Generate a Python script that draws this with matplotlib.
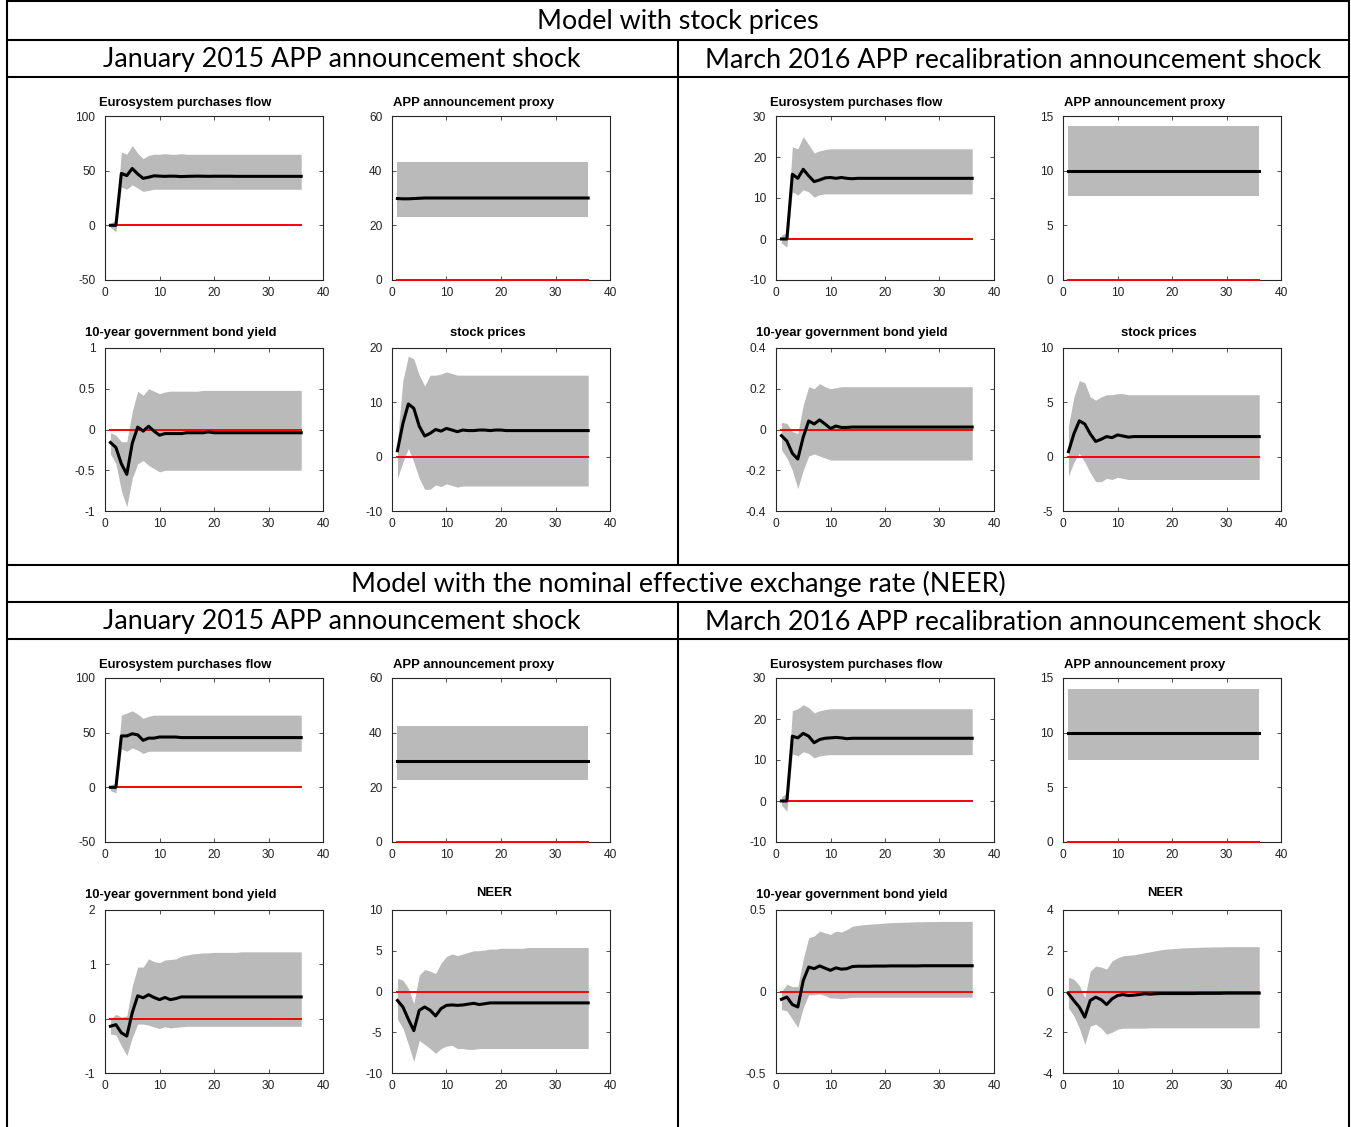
import numpy as np
import matplotlib.pyplot as plt

plt.rcParams['axes.unicode_minus'] = False

# ---- data: impulse responses (median, lower and upper band), horizon 1..36 ----
# model with stock prices, January 2015 shock
sp15_flow_med = [0, 0, 47.5, 45.5, 52, 47, 43, 44, 45.3, 45, 44.8, 45,
                 44.9, 44.6, 44.8, 44.9, 45, 44.9, 44.8, 44.9, 44.9, 44.9, 44.9, 44.8,
                 44.8, 44.8, 44.8, 44.8, 44.8, 44.8, 44.8, 44.8, 44.8, 44.8, 44.8, 44.8]
sp15_flow_hi = [2, 5, 67, 65, 73, 66, 61, 64, 65, 65, 65.5, 65,
                65, 65.5, 65, 65, 65, 65, 65, 65, 65, 65, 65, 65,
                65, 65, 65, 65, 65, 65, 65, 65, 65, 65, 65, 65]
sp15_flow_lo = [-2, -6, 35, 33, 37, 34, 31, 32, 33, 33, 33, 33,
                33, 33, 33, 33, 33, 33, 33, 33, 33, 33, 33, 33,
                33, 33, 33, 33, 33, 33, 33, 33, 33, 33, 33, 33]
sp15_app_med = [29.8, 29.7, 29.7, 29.8, 29.9, 30, 30, 30, 30, 30, 30, 30,
                30, 30, 30, 30, 30, 30, 30, 30, 30, 30, 30, 30,
                30, 30, 30, 30, 30, 30, 30, 30, 30, 30, 30, 30]
sp15_app_hi = [43, 43, 43, 43, 43, 43, 43, 43, 43, 43, 43, 43,
               43, 43, 43, 43, 43, 43, 43, 43, 43, 43, 43, 43,
               43, 43, 43, 43, 43, 43, 43, 43, 43, 43, 43, 43]
sp15_app_lo = [23, 23, 23, 23, 23, 23, 23, 23, 23, 23, 23, 23,
               23, 23, 23, 23, 23, 23, 23, 23, 23, 23, 23, 23,
               23, 23, 23, 23, 23, 23, 23, 23, 23, 23, 23, 23]
sp15_bond_med = [-0.16, -0.22, -0.42, -0.55, -0.17, 0.03, -0.02, 0.04, -0.02, -0.07, -0.05, -0.05,
                 -0.05, -0.05, -0.04, -0.04, -0.04, -0.04, -0.03, -0.04, -0.04, -0.04, -0.04, -0.04,
                 -0.04, -0.04, -0.04, -0.04, -0.04, -0.04, -0.04, -0.04, -0.04, -0.04, -0.04, -0.04]
sp15_bond_hi = [-0.04, -0.07, -0.15, -0.15, 0.22, 0.47, 0.42, 0.5, 0.47, 0.44, 0.46, 0.47,
                0.47, 0.47, 0.47, 0.47, 0.47, 0.48, 0.48, 0.48, 0.48, 0.48, 0.48, 0.48,
                0.48, 0.48, 0.48, 0.48, 0.48, 0.48, 0.48, 0.48, 0.48, 0.48, 0.48, 0.48]
sp15_bond_lo = [-0.3, -0.42, -0.75, -0.95, -0.6, -0.42, -0.38, -0.44, -0.48, -0.52, -0.5, -0.5,
                -0.5, -0.5, -0.5, -0.5, -0.5, -0.5, -0.5, -0.5, -0.5, -0.5, -0.5, -0.5,
                -0.5, -0.5, -0.5, -0.5, -0.5, -0.5, -0.5, -0.5, -0.5, -0.5, -0.5, -0.5]
sp15_stock_med = [1.1, 6.1, 9.7, 8.9, 5.6, 3.8, 4.3, 5.0, 4.7, 5.2, 4.9, 4.6,
                  4.9, 4.8, 4.8, 4.9, 4.9, 4.8, 4.9, 4.9, 4.8, 4.8, 4.8, 4.8,
                  4.8, 4.8, 4.8, 4.8, 4.8, 4.8, 4.8, 4.8, 4.8, 4.8, 4.8, 4.8]
sp15_stock_hi = [3, 14, 18.5, 18, 15, 13, 15, 15, 15.2, 15.6, 15.3, 15,
                 15, 15, 15, 15, 15, 15, 15, 15, 15, 15, 15, 15,
                 15, 15, 15, 15, 15, 15, 15, 15, 15, 15, 15, 15]
sp15_stock_lo = [-4, -1, 1.5, -1, -4, -6, -6, -5.2, -5.5, -5, -5.3, -5.6,
                 -5.4, -5.4, -5.4, -5.4, -5.4, -5.4, -5.4, -5.4, -5.4, -5.4, -5.4, -5.4,
                 -5.4, -5.4, -5.4, -5.4, -5.4, -5.4, -5.4, -5.4, -5.4, -5.4, -5.4, -5.4]

# model with stock prices, March 2016 shock
sp16_flow_med = [0, 0, 15.8, 14.8, 17, 15.4, 14, 14.4, 14.9, 15, 14.8, 15,
                 14.8, 14.7, 14.8, 14.8, 14.8, 14.8, 14.8, 14.8, 14.8, 14.8, 14.8, 14.8,
                 14.8, 14.8, 14.8, 14.8, 14.8, 14.8, 14.8, 14.8, 14.8, 14.8, 14.8, 14.8]
sp16_flow_hi = [1, 1.5, 22.5, 22, 25, 23, 21, 21.5, 21.8, 22, 22, 22,
                22, 22, 22, 22, 22, 22, 22, 22, 22, 22, 22, 22,
                22, 22, 22, 22, 22, 22, 22, 22, 22, 22, 22, 22]
sp16_flow_lo = [-1, -2, 11.5, 10.7, 12, 11.5, 10.2, 10.8, 11, 11, 11, 11,
                11, 11, 11, 11, 11, 11, 11, 11, 11, 11, 11, 11,
                11, 11, 11, 11, 11, 11, 11, 11, 11, 11, 11, 11]
sp16_app_med = [10, 10, 10, 10, 10, 10, 10, 10, 10, 10, 10, 10,
                10, 10, 10, 10, 10, 10, 10, 10, 10, 10, 10, 10,
                10, 10, 10, 10, 10, 10, 10, 10, 10, 10, 10, 10]
sp16_app_hi = [14.1, 14.1, 14.1, 14.1, 14.1, 14.1, 14.1, 14.1, 14.1, 14.1, 14.1, 14.1,
               14.1, 14.1, 14.1, 14.1, 14.1, 14.1, 14.1, 14.1, 14.1, 14.1, 14.1, 14.1,
               14.1, 14.1, 14.1, 14.1, 14.1, 14.1, 14.1, 14.1, 14.1, 14.1, 14.1, 14.1]
sp16_app_lo = [7.7, 7.7, 7.7, 7.7, 7.7, 7.7, 7.7, 7.7, 7.7, 7.7, 7.7, 7.7,
               7.7, 7.7, 7.7, 7.7, 7.7, 7.7, 7.7, 7.7, 7.7, 7.7, 7.7, 7.7,
               7.7, 7.7, 7.7, 7.7, 7.7, 7.7, 7.7, 7.7, 7.7, 7.7, 7.7, 7.7]
sp16_bond_med = [-0.03, -0.057, -0.117, -0.145, -0.037, 0.042, 0.027, 0.047, 0.027, 0.005, 0.017, 0.01,
                 0.01, 0.012, 0.012, 0.012, 0.012, 0.012, 0.012, 0.012, 0.012, 0.012, 0.012, 0.012,
                 0.012, 0.012, 0.012, 0.012, 0.012, 0.012, 0.012, 0.012, 0.012, 0.012, 0.012, 0.012]
sp16_bond_hi = [0.035, 0.03, -0.01, -0.02, 0.12, 0.21, 0.2, 0.225, 0.21, 0.2, 0.205, 0.21,
                0.21, 0.21, 0.21, 0.21, 0.21, 0.21, 0.21, 0.21, 0.21, 0.21, 0.21, 0.21,
                0.21, 0.21, 0.21, 0.21, 0.21, 0.21, 0.21, 0.21, 0.21, 0.21, 0.21, 0.21]
sp16_bond_lo = [-0.1, -0.14, -0.2, -0.29, -0.2, -0.13, -0.12, -0.13, -0.14, -0.15, -0.15, -0.15,
                -0.15, -0.15, -0.15, -0.15, -0.15, -0.15, -0.15, -0.15, -0.15, -0.15, -0.15, -0.15,
                -0.15, -0.15, -0.15, -0.15, -0.15, -0.15, -0.15, -0.15, -0.15, -0.15, -0.15, -0.15]
sp16_stock_med = [0.46, 2.1, 3.3, 3.0, 2.1, 1.4, 1.6, 1.85, 1.75, 2.0, 1.9, 1.8,
                  1.85, 1.85, 1.85, 1.85, 1.85, 1.85, 1.85, 1.85, 1.85, 1.85, 1.85, 1.85,
                  1.85, 1.85, 1.85, 1.85, 1.85, 1.85, 1.85, 1.85, 1.85, 1.85, 1.85, 1.85]
sp16_stock_hi = [2.8, 5.5, 7, 6.8, 5.5, 5.2, 5.5, 5.7, 5.7, 5.8, 5.8, 5.7,
                 5.7, 5.7, 5.7, 5.7, 5.7, 5.7, 5.7, 5.7, 5.7, 5.7, 5.7, 5.7,
                 5.7, 5.7, 5.7, 5.7, 5.7, 5.7, 5.7, 5.7, 5.7, 5.7, 5.7, 5.7]
sp16_stock_lo = [-1.8, -0.5, 0.3, -0.5, -1.5, -2.3, -2.3, -2.0, -2.1, -1.9, -2.0, -2.1,
                 -2.1, -2.1, -2.1, -2.1, -2.1, -2.1, -2.1, -2.1, -2.1, -2.1, -2.1, -2.1,
                 -2.1, -2.1, -2.1, -2.1, -2.1, -2.1, -2.1, -2.1, -2.1, -2.1, -2.1, -2.1]

# model with the NEER, January 2015 shock
ne15_flow_med = [0, 0, 47, 47, 49, 48, 43, 45, 45, 46, 46, 46,
                 46, 45.5, 45.5, 45.5, 45.5, 45.5, 45.5, 45.5, 45.5, 45.5, 45.5, 45.5,
                 45.5, 45.5, 45.5, 45.5, 45.5, 45.5, 45.5, 45.5, 45.5, 45.5, 45.5, 45.5]
ne15_flow_hi = [2, 4, 66, 68, 70, 67, 63, 65, 66, 66, 66, 66,
                66, 66, 66, 66, 66, 66, 66, 66, 66, 66, 66, 66,
                66, 66, 66, 66, 66, 66, 66, 66, 66, 66, 66, 66]
ne15_flow_lo = [-3, -5, 35, 33, 36, 34, 31, 33, 33, 33, 33, 33,
                33, 33, 33, 33, 33, 33, 33, 33, 33, 33, 33, 33,
                33, 33, 33, 33, 33, 33, 33, 33, 33, 33, 33, 33]
ne15_app_med = [29.8, 29.8, 29.8, 29.8, 29.8, 29.8, 29.8, 29.8, 29.8, 29.8, 29.8, 29.8,
                29.8, 29.8, 29.8, 29.8, 29.8, 29.8, 29.8, 29.8, 29.8, 29.8, 29.8, 29.8,
                29.8, 29.8, 29.8, 29.8, 29.8, 29.8, 29.8, 29.8, 29.8, 29.8, 29.8, 29.8]
ne15_app_hi = [42.5, 42.5, 42.5, 42.5, 42.5, 42.5, 42.5, 42.5, 42.5, 42.5, 42.5, 42.5,
               42.5, 42.5, 42.5, 42.5, 42.5, 42.5, 42.5, 42.5, 42.5, 42.5, 42.5, 42.5,
               42.5, 42.5, 42.5, 42.5, 42.5, 42.5, 42.5, 42.5, 42.5, 42.5, 42.5, 42.5]
ne15_app_lo = [22.5, 22.5, 22.5, 22.5, 22.5, 22.5, 22.5, 22.5, 22.5, 22.5, 22.5, 22.5,
               22.5, 22.5, 22.5, 22.5, 22.5, 22.5, 22.5, 22.5, 22.5, 22.5, 22.5, 22.5,
               22.5, 22.5, 22.5, 22.5, 22.5, 22.5, 22.5, 22.5, 22.5, 22.5, 22.5, 22.5]
ne15_bond_med = [-0.14, -0.11, -0.26, -0.32, 0.11, 0.42, 0.385, 0.44, 0.39, 0.35, 0.39, 0.35,
                 0.37, 0.4, 0.4, 0.4, 0.4, 0.4, 0.4, 0.4, 0.4, 0.4, 0.4, 0.4,
                 0.4, 0.4, 0.4, 0.4, 0.4, 0.4, 0.4, 0.4, 0.4, 0.4, 0.4, 0.4]
ne15_bond_hi = [-0.01, 0.08, 0.03, 0.05, 0.6, 0.95, 0.95, 1.1, 1.05, 1.03, 1.08, 1.09,
                1.1, 1.15, 1.17, 1.19, 1.2, 1.21, 1.21, 1.22, 1.22, 1.22, 1.22, 1.22,
                1.23, 1.23, 1.23, 1.23, 1.23, 1.23, 1.23, 1.23, 1.23, 1.23, 1.23, 1.23]
ne15_bond_lo = [-0.28, -0.3, -0.5, -0.68, -0.35, -0.1, -0.1, -0.12, -0.15, -0.18, -0.15, -0.17,
                -0.16, -0.15, -0.14, -0.14, -0.14, -0.14, -0.14, -0.14, -0.14, -0.14, -0.14, -0.14,
                -0.14, -0.14, -0.14, -0.14, -0.14, -0.14, -0.14, -0.14, -0.14, -0.14, -0.14, -0.14]
ne15_neer_med = [-1.1, -1.9, -3.4, -4.8, -2.3, -1.9, -2.3, -3.0, -2.1, -1.7, -1.65, -1.7,
                 -1.65, -1.55, -1.45, -1.6, -1.5, -1.4, -1.4, -1.4, -1.4, -1.4, -1.4, -1.4,
                 -1.4, -1.4, -1.4, -1.4, -1.4, -1.4, -1.4, -1.4, -1.4, -1.4, -1.4, -1.4]
ne15_neer_hi = [1.6, 1.4, 0.4, -1.5, 2.0, 2.7, 2.5, 2.2, 3.5, 4.3, 4.6, 4.4,
                4.6, 4.8, 5.0, 5.0, 5.1, 5.2, 5.2, 5.3, 5.3, 5.3, 5.3, 5.3,
                5.4, 5.4, 5.4, 5.4, 5.4, 5.4, 5.4, 5.4, 5.4, 5.4, 5.4, 5.4]
ne15_neer_lo = [-3.4, -4.5, -6.5, -8.6, -6.0, -6.5, -7.0, -7.6, -7.0, -6.7, -6.6, -7.0,
                -7.0, -7.1, -7.1, -7.0, -7.0, -7.0, -7.0, -7.0, -7.0, -7.0, -7.0, -7.0,
                -7.0, -7.0, -7.0, -7.0, -7.0, -7.0, -7.0, -7.0, -7.0, -7.0, -7.0, -7.0]

# model with the NEER, March 2016 shock
ne16_flow_med = [0, 0, 15.8, 15.4, 16.5, 15.8, 14.2, 15, 15.3, 15.4, 15.5, 15.4,
                 15.2, 15.3, 15.3, 15.3, 15.3, 15.3, 15.3, 15.3, 15.3, 15.3, 15.3, 15.3,
                 15.3, 15.3, 15.3, 15.3, 15.3, 15.3, 15.3, 15.3, 15.3, 15.3, 15.3, 15.3]
ne16_flow_hi = [1, 2, 22, 22.5, 23.5, 22.8, 21.5, 22, 22.3, 22.5, 22.5, 22.5,
                22.5, 22.5, 22.5, 22.5, 22.5, 22.5, 22.5, 22.5, 22.5, 22.5, 22.5, 22.5,
                22.5, 22.5, 22.5, 22.5, 22.5, 22.5, 22.5, 22.5, 22.5, 22.5, 22.5, 22.5]
ne16_flow_lo = [-1, -2.5, 11.5, 11, 12, 11.6, 10.5, 11, 11.2, 11.3, 11.3, 11.3,
                11.3, 11.3, 11.3, 11.3, 11.3, 11.3, 11.3, 11.3, 11.3, 11.3, 11.3, 11.3,
                11.3, 11.3, 11.3, 11.3, 11.3, 11.3, 11.3, 11.3, 11.3, 11.3, 11.3, 11.3]
ne16_app_med = [10, 10, 10, 10, 10, 10, 10, 10, 10, 10, 10, 10,
                10, 10, 10, 10, 10, 10, 10, 10, 10, 10, 10, 10,
                10, 10, 10, 10, 10, 10, 10, 10, 10, 10, 10, 10]
ne16_app_hi = [14, 14, 14, 14, 14, 14, 14, 14, 14, 14, 14, 14,
               14, 14, 14, 14, 14, 14, 14, 14, 14, 14, 14, 14,
               14, 14, 14, 14, 14, 14, 14, 14, 14, 14, 14, 14]
ne16_app_lo = [7.5, 7.5, 7.5, 7.5, 7.5, 7.5, 7.5, 7.5, 7.5, 7.5, 7.5, 7.5,
               7.5, 7.5, 7.5, 7.5, 7.5, 7.5, 7.5, 7.5, 7.5, 7.5, 7.5, 7.5,
               7.5, 7.5, 7.5, 7.5, 7.5, 7.5, 7.5, 7.5, 7.5, 7.5, 7.5, 7.5]
ne16_bond_med = [-0.048, -0.034, -0.08, -0.095, 0.067, 0.15, 0.14, 0.157, 0.143, 0.13, 0.145, 0.137,
                 0.14, 0.153, 0.155, 0.155, 0.155, 0.156, 0.156, 0.156, 0.157, 0.157, 0.157, 0.157,
                 0.157, 0.157, 0.158, 0.158, 0.158, 0.158, 0.158, 0.158, 0.158, 0.158, 0.158, 0.158]
ne16_bond_hi = [0.0, 0.045, 0.03, 0.03, 0.2, 0.33, 0.34, 0.37, 0.36, 0.35, 0.37, 0.365,
                0.38, 0.4, 0.405, 0.41, 0.412, 0.415, 0.417, 0.42, 0.422, 0.423, 0.425, 0.425,
                0.427, 0.428, 0.428, 0.429, 0.429, 0.43, 0.43, 0.43, 0.43, 0.43, 0.43, 0.43]
ne16_bond_lo = [-0.11, -0.12, -0.17, -0.22, -0.1, -0.02, -0.02, -0.015, -0.025, -0.04, -0.04, -0.045,
                -0.04, -0.035, -0.035, -0.035, -0.035, -0.035, -0.035, -0.035, -0.035, -0.035, -0.035, -0.035,
                -0.035, -0.035, -0.035, -0.035, -0.035, -0.035, -0.035, -0.035, -0.035, -0.035, -0.035, -0.035]
ne16_neer_med = [-0.1, -0.45, -0.77, -1.26, -0.44, -0.28, -0.4, -0.64, -0.36, -0.2, -0.15, -0.2,
                 -0.18, -0.15, -0.11, -0.13, -0.11, -0.1, -0.1, -0.1, -0.1, -0.1, -0.1, -0.1,
                 -0.09, -0.09, -0.09, -0.09, -0.09, -0.08, -0.08, -0.08, -0.08, -0.08, -0.08, -0.08]
ne16_neer_hi = [0.7, 0.6, 0.3, -0.3, 1.0, 1.25, 1.2, 1.1, 1.5, 1.65, 1.75, 1.78,
                1.8, 1.85, 1.9, 1.95, 2.0, 2.05, 2.08, 2.1, 2.12, 2.14, 2.15, 2.16,
                2.17, 2.18, 2.18, 2.19, 2.19, 2.2, 2.2, 2.2, 2.2, 2.2, 2.2, 2.2]
ne16_neer_lo = [-0.8, -1.2, -1.8, -2.6, -1.7, -1.6, -1.8, -2.1, -2.0, -1.85, -1.8, -1.8,
                -1.8, -1.8, -1.8, -1.78, -1.78, -1.78, -1.78, -1.78, -1.78, -1.78, -1.78, -1.78,
                -1.78, -1.78, -1.78, -1.78, -1.78, -1.78, -1.78, -1.78, -1.78, -1.78, -1.78, -1.78]

# headers
top_title = "Model with stock prices"
bottom_title = "Model with the nominal effective exchange rate (NEER)"
col_titles = ["January 2015 APP announcement shock", "March 2016 APP recalibration announcement shock"]

W, H = 1351, 1127
fig = plt.figure(figsize=(W / 100, H / 100), dpi=100)

# background "table" drawn in pixel coordinates
tab = fig.add_axes([0, 0, 1, 1])
tab.set_xlim(0, W)
tab.set_ylim(H, 0)
tab.axis('off')
lc = dict(color='black', lw=1.5, solid_capstyle='butt')
for y in [1, 40, 77, 565, 602, 639]:
    tab.plot([7, 1349], [y, y], **lc)
tab.plot([7, 7], [0, H], **lc)
tab.plot([1349, 1349], [0, H], **lc)
tab.plot([678, 678], [40, 565], **lc)
tab.plot([678, 678], [602, H], **lc)

hfont = dict(family='Lato', fontsize=19.4, ha='center', va='center')
tab.text(678, 22, top_title, **hfont)
tab.text(678, 584, bottom_title, **hfont)
for yy in [60, 622]:
    tab.text(342, yy, col_titles[0], **hfont)
    tab.text(1013, yy, col_titles[1], **hfont)


def px_axes(l, t, r, b):
    return fig.add_axes([l / W, 1 - b / H, (r - l) / W, (b - t) / H])


def fmt(v, pos):
    return '%g' % round(v, 6)


def irf_plot(ax, med, lo, hi, yticks):
    t = np.arange(1, len(med) + 1)
    ax.fill_between(t, lo, hi, color='#bababa', lw=0, zorder=1)
    ax.plot(t, np.zeros(len(t)), color='red', lw=1.4, zorder=4, clip_on=False)
    ax.plot(t, med, color='black', lw=2.2, zorder=5)
    ax.set_xlim(0, 40)
    ax.set_ylim(yticks[0], yticks[-1])
    ax.set_xticks([0, 10, 20, 30, 40])
    ax.set_yticks(yticks)
    ax.xaxis.set_major_formatter(fmt)
    ax.yaxis.set_major_formatter(fmt)
    ax.tick_params(direction='in', length=3, width=0.6, top=True, right=True,
                   labelsize=8.6, color='#333333', labelcolor='#222222')
    ax.tick_params(axis='x', pad=5)
    ax.tick_params(axis='y', pad=7)
    for s in ax.spines.values():
        s.set_color('#262626')
        s.set_linewidth(0.8)
    for lab in ax.get_xticklabels() + ax.get_yticklabels():
        lab.set_family('Liberation Sans')


# subplot boxes inside one block: (left, top, right, bottom) in pixels
boxes = [(105, 116, 323, 280), (392, 116, 610, 280),
         (105, 348, 323, 511), (392, 348, 610, 511)]
# title center offset from axes left and height above axes top
title_pos = {'flow': (80, 13), 'app': (82, 13), 'bond': (76, 15),
             'stock': (96, 15), 'neer': (102, 17)}
names = {'flow': 'Eurosystem purchases flow', 'app': 'APP announcement proxy',
         'bond': '10-year government bond yield', 'stock': 'stock prices', 'neer': 'NEER'}

blocks = [
    (0, 0, [('flow', sp15_flow_med, sp15_flow_lo, sp15_flow_hi, [-50, 0, 50, 100]),
            ('app', sp15_app_med, sp15_app_lo, sp15_app_hi, [0, 20, 40, 60]),
            ('bond', sp15_bond_med, sp15_bond_lo, sp15_bond_hi, [-1, -0.5, 0, 0.5, 1]),
            ('stock', sp15_stock_med, sp15_stock_lo, sp15_stock_hi, [-10, 0, 10, 20])]),
    (671, 0, [('flow', sp16_flow_med, sp16_flow_lo, sp16_flow_hi, [-10, 0, 10, 20, 30]),
              ('app', sp16_app_med, sp16_app_lo, sp16_app_hi, [0, 5, 10, 15]),
              ('bond', sp16_bond_med, sp16_bond_lo, sp16_bond_hi, [-0.4, -0.2, 0, 0.2, 0.4]),
              ('stock', sp16_stock_med, sp16_stock_lo, sp16_stock_hi, [-5, 0, 5, 10])]),
    (0, 562, [('flow', ne15_flow_med, ne15_flow_lo, ne15_flow_hi, [-50, 0, 50, 100]),
              ('app', ne15_app_med, ne15_app_lo, ne15_app_hi, [0, 20, 40, 60]),
              ('bond', ne15_bond_med, ne15_bond_lo, ne15_bond_hi, [-1, 0, 1, 2]),
              ('neer', ne15_neer_med, ne15_neer_lo, ne15_neer_hi, [-10, -5, 0, 5, 10])]),
    (671, 562, [('flow', ne16_flow_med, ne16_flow_lo, ne16_flow_hi, [-10, 0, 10, 20, 30]),
                ('app', ne16_app_med, ne16_app_lo, ne16_app_hi, [0, 5, 10, 15]),
                ('bond', ne16_bond_med, ne16_bond_lo, ne16_bond_hi, [-0.5, 0, 0.5]),
                ('neer', ne16_neer_med, ne16_neer_lo, ne16_neer_hi, [-4, -2, 0, 2, 4])]),
]

for dx, dy, panels in blocks:
    for (key, med, lo, hi, yt), (l, t, r, b) in zip(panels, boxes):
        ax = px_axes(l + dx, t + dy, r + dx, b + dy)
        irf_plot(ax, med, lo, hi, yt)
        ox, oy = title_pos[key]
        tab.text(l + dx + ox, t + dy - oy, names[key], ha='center', va='center',
                 family='Liberation Sans', fontweight='bold', fontsize=9.4)

fig.savefig('out.png', dpi=100)
